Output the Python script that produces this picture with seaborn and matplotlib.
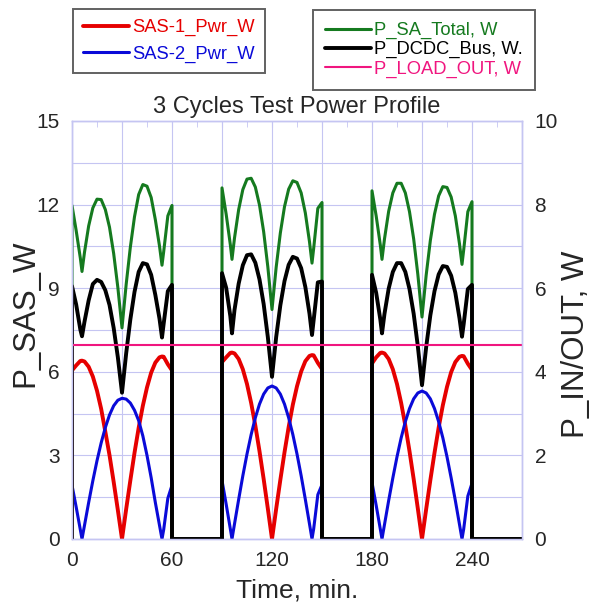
import numpy as np
import pandas as pd
import matplotlib
matplotlib.use("Agg")
import matplotlib.pyplot as plt
import seaborn as sns
from matplotlib.ticker import MultipleLocator, FuncFormatter

sns.set_style("white")
plt.rcParams["font.family"] = ["Liberation Sans", "DejaVu Sans"]

# time within a sunlit period (min); each cycle = 60 min sun + 30 min eclipse
cycle_starts = [0, 90, 180]
sun_len = 60
cycle_len = 90
offsets = np.array([0, 2.5, 5, 6, 7.5, 10, 12.5, 15, 17.5, 20, 22.5, 25, 27.5, 30,
                    32.5, 35, 37.5, 40, 42.5, 45, 47.5, 50, 52.5, 54, 55, 57.5, 60])

# left axis, W
sas1_c1 = [6.05, 6.23, 6.39, 6.40, 6.37, 6.18, 5.83, 5.32, 4.67, 3.85, 3.01, 2.05, 1.04, 0.0,
           1.07, 2.10, 3.09, 3.99, 4.78, 5.44, 5.97, 6.33, 6.52, 6.55, 6.54, 6.27, 6.05]
sas1_c2 = [6.35, 6.52, 6.68, 6.69, 6.66, 6.46, 6.09, 5.56, 4.88, 4.07, 3.15, 2.15, 1.09, 0.0,
           1.08, 2.12, 3.11, 4.02, 4.82, 5.48, 6.01, 6.38, 6.57, 6.60, 6.59, 6.32, 6.10]
sas1_c3 = [6.30, 6.52, 6.68, 6.69, 6.66, 6.46, 6.09, 5.56, 4.88, 4.07, 3.15, 2.15, 1.09, 0.0,
           1.07, 2.11, 3.09, 4.00, 4.80, 5.46, 5.99, 6.35, 6.54, 6.57, 6.56, 6.29, 6.07]

sas2_c1 = [1.93, 1.15, 0.33, 0.0, 0.49, 1.31, 2.09, 2.81, 3.45, 4.00, 4.45, 4.78, 4.98, 5.05,
           5.02, 4.88, 4.62, 4.25, 3.70, 3.00, 2.20, 1.31, 0.49, 0.0, 0.33, 1.46, 1.93]
sas2_c2 = [2.10, 1.25, 0.36, 0.0, 0.54, 1.42, 2.27, 3.05, 3.75, 4.35, 4.84, 5.20, 5.42, 5.49,
           5.42, 5.20, 4.84, 4.35, 3.75, 3.05, 2.27, 1.42, 0.54, 0.0, 0.36, 1.59, 1.95]
sas2_c3 = [2.03, 1.21, 0.35, 0.0, 0.52, 1.38, 2.19, 2.95, 3.63, 4.21, 4.68, 5.03, 5.24, 5.31,
           5.24, 5.03, 4.68, 4.21, 3.63, 2.95, 2.19, 1.38, 0.52, 0.0, 0.35, 1.54, 2.00]

# right axis, W
sa_total_c1 = [7.98, 7.38, 6.72, 6.40, 6.86, 7.49, 7.92, 8.13, 8.12, 7.88, 7.46, 6.83, 6.02, 5.05,
               6.09, 6.98, 7.71, 8.24, 8.48, 8.44, 8.17, 7.64, 7.01, 6.55, 6.87, 7.73, 7.98]
sa_total_c2 = [8.40, 7.77, 7.04, 6.69, 7.20, 7.88, 8.36, 8.61, 8.63, 8.42, 7.99, 7.35, 6.51, 5.49,
               6.50, 7.32, 7.95, 8.37, 8.57, 8.53, 8.28, 7.80, 7.11, 6.60, 6.95, 7.91, 8.05]
sa_total_c3 = [8.33, 7.73, 7.03, 6.69, 7.18, 7.84, 8.28, 8.51, 8.51, 8.28, 7.83, 7.18, 6.33, 5.31,
               6.31, 7.14, 7.77, 8.21, 8.43, 8.41, 8.18, 7.73, 7.06, 6.57, 6.91, 7.83, 8.07]

dcdc_bus_c1 = [6.05, 5.61, 5.01, 4.85, 5.20, 5.71, 6.10, 6.20, 6.15, 5.95, 5.60, 5.05, 4.35, 3.50,
               4.44, 5.25, 5.91, 6.39, 6.60, 6.57, 6.32, 5.84, 5.27, 4.82, 5.15, 5.93, 6.08]
dcdc_bus_c2 = [6.36, 6.01, 5.33, 4.92, 5.48, 6.11, 6.55, 6.79, 6.81, 6.61, 6.21, 5.62, 4.83, 3.88,
               4.83, 5.59, 6.17, 6.56, 6.75, 6.71, 6.48, 6.03, 5.39, 4.88, 5.24, 6.14, 6.16]
dcdc_bus_c3 = [6.32, 5.89, 5.25, 4.92, 5.39, 5.99, 6.39, 6.60, 6.60, 6.39, 5.98, 5.39, 4.61, 3.68,
               4.59, 5.35, 5.93, 6.33, 6.53, 6.51, 6.30, 5.89, 5.28, 4.84, 5.14, 5.98, 6.08]

load_t = [0, 0, 270]
load_w = [0, 4.63, 4.63]


def build_profile(cycles):
    """Chain sunlit cycles with zero-power eclipse segments."""
    t, v = [0.0], [0.0]
    for start, vals in zip(cycle_starts, cycles):
        t += list(start + offsets) + [start + sun_len, start + cycle_len]
        v += list(vals) + [0.0, 0.0]
    return pd.DataFrame({"time": t, "power": v})


fig = plt.figure(figsize=(5.93, 6.12), dpi=100)
ax = fig.add_axes([72 / 593, 73 / 612, 450 / 593, 418 / 612])
ax2 = ax.twinx()

red, blue = "#e60000", "#0a0ad8"
green, black, pink = "#157a1f", "#000000", "#f0157f"

left_series = [("SAS-1_Pwr_W", [sas1_c1, sas1_c2, sas1_c3], red, 2.8),
               ("SAS-2_Pwr_W", [sas2_c1, sas2_c2, sas2_c3], blue, 2.2)]
right_series = [("P_SA_Total, W", [sa_total_c1, sa_total_c2, sa_total_c3], green, 2.2),
                ("P_DCDC_Bus, W.", [dcdc_bus_c1, dcdc_bus_c2, dcdc_bus_c3], black, 2.8)]

for label, cycles, color, lw in left_series:
    df = build_profile(cycles)
    sns.lineplot(data=df, x="time", y="power", ax=ax, color=color, linewidth=lw,
                 estimator=None, sort=False, label=label, legend=False)
for label, cycles, color, lw in right_series:
    df = build_profile(cycles)
    sns.lineplot(data=df, x="time", y="power", ax=ax2, color=color, linewidth=lw,
                 estimator=None, sort=False, label=label, legend=False)
sns.lineplot(x=load_t, y=load_w, ax=ax2, color=pink, linewidth=1.5,
             estimator=None, sort=False, label="P_LOAD_OUT, W", legend=False)

grid_color = "#c5c5f2"
ax.set_xlim(0, 270)
ax.set_ylim(0, 15)
ax2.set_ylim(0, 10)

ax.xaxis.set_major_locator(MultipleLocator(30))
ax.xaxis.set_minor_locator(MultipleLocator(15))
ax.xaxis.set_major_formatter(FuncFormatter(lambda x, p: f"{x:.0f}" if x % 60 == 0 and x < 270 else ""))
ax.yaxis.set_major_locator(MultipleLocator(1.5))
ax.yaxis.set_major_formatter(FuncFormatter(lambda y, p: f"{y:.0f}" if y % 3 == 0 else ""))
ax2.yaxis.set_major_locator(MultipleLocator(2))

ax.grid(True, which="major", color=grid_color, linewidth=0.8)
ax.set_axisbelow(True)
for a in (ax, ax2):
    for s in a.spines.values():
        s.set_color(grid_color)
        s.set_linewidth(1.0)
ax.tick_params(axis="both", which="both", direction="in", color=grid_color,
               labelsize=15, top=True, pad=9, length=4)
ax.tick_params(axis="y", which="major", length=0)
ax2.tick_params(axis="y", direction="in", color=grid_color, labelsize=15, pad=9, length=0)

ax.set_xlabel("Time, min.", fontsize=19, labelpad=6)
ax.set_ylabel("P_SAS_W", fontsize=22.5, labelpad=-3)
ax2.set_ylabel("P_IN/OUT, W", fontsize=22.5, labelpad=2)
ax.yaxis.label.set_y(0.54)
ax2.yaxis.label.set_y(0.465)
ax.set_title("3 Cycles Test Power Profile", fontsize=17, pad=6)

h1, l1 = ax.get_legend_handles_labels()
h2, l2 = ax2.get_legend_handles_labels()
leg1 = fig.legend(h1, l1, loc="upper left", bbox_to_anchor=(73 / 593, 1 - 9 / 612),
                  fontsize=13.2, frameon=True, fancybox=False, handlelength=2.5,
                  labelspacing=0.5, handletextpad=0.2, borderpad=0.55, borderaxespad=0)
leg2 = fig.legend(h2, l2, loc="upper left", bbox_to_anchor=(313 / 593, 1 - 10 / 612),
                  fontsize=13.2, frameon=True, fancybox=False, handlelength=2.5,
                  labelspacing=0.12, handletextpad=0.2, borderpad=0.65, borderaxespad=0)
for leg in (leg1, leg2):
    leg.get_frame().set_edgecolor("#3a3a3a")
    leg.get_frame().set_linewidth(1.4)
    for line, text in zip(leg.get_lines(), leg.get_texts()):
        text.set_color(line.get_color())

fig.savefig("out.png", dpi=100)
